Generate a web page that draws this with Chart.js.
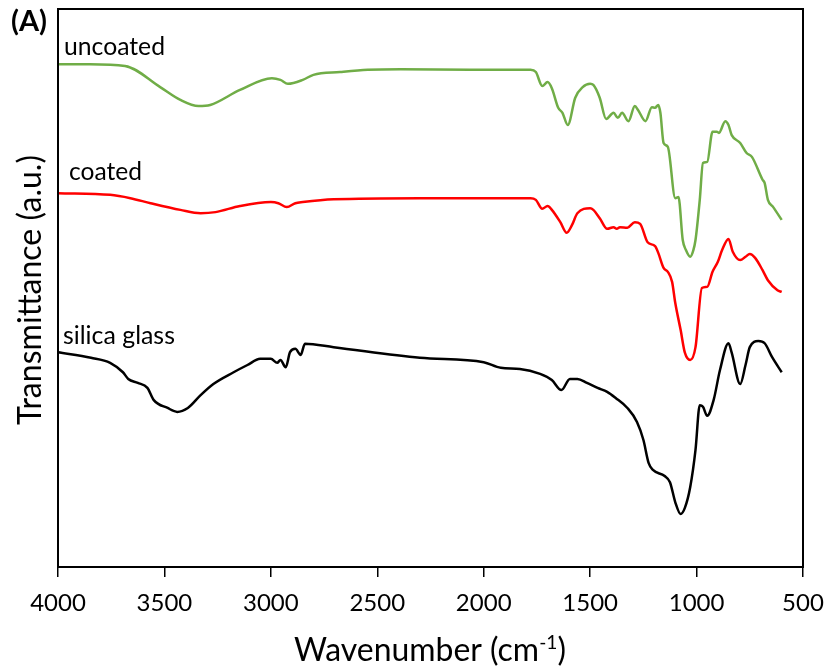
<!DOCTYPE html>
<html>
<head>
<meta charset="utf-8">
<script src="https://cdn.jsdelivr.net/npm/chart.js@4"></script>
<style>
  html, body { margin: 0; padding: 0; background: #fff; }
  #ftir { display: block; }
</style>
</head>
<body>
<canvas id="ftir" width="827" height="670"></canvas>
<script>
// Wavenumber (cm-1) and transmittance (a.u.)
const xTicks = [4000, 3500, 3000, 2500, 2000, 1500, 1000, 500];

const wnUncoated = [4000, 3850, 3685, 3520, 3425, 3340, 3285, 3145, 2995, 2955, 2920, 2850, 2800, 2675, 2545, 2390, 2065, 1780, 1755, 1725, 1700, 1680, 1650, 1630, 1605, 1570, 1535, 1500, 1485, 1455, 1425, 1390, 1370, 1350, 1320, 1290, 1275, 1240, 1210, 1195, 1180, 1170, 1155, 1135, 1100, 1085, 1065, 1050, 1030, 1015, 1005, 985, 970, 950, 925, 905, 895, 865, 850, 835, 795, 765, 740, 690, 680, 665, 640, 600];
const tUncoated = [90.1, 90.1, 89.8, 86.0, 83.7, 82.6, 82.8, 85.5, 87.6, 87.3, 86.6, 87.3, 88.2, 88.7, 89.1, 89.2, 89.1, 89.1, 88.7, 86.2, 86.9, 85.8, 82.3, 81.4, 79.2, 84.1, 86.0, 86.6, 86.4, 84.1, 80.3, 81.4, 80.5, 81.4, 79.9, 82.6, 81.9, 79.9, 82.4, 82.3, 82.8, 81.4, 76.0, 75.3, 66.1, 66.3, 58.6, 56.8, 55.6, 56.8, 58.6, 65.8, 72.4, 72.6, 78.0, 78.0, 77.8, 79.9, 79.2, 77.4, 76.0, 74.2, 73.5, 69.4, 68.8, 65.8, 64.5, 62.2];

const wnCoated = [4000, 3755, 3660, 3565, 3425, 3330, 3260, 3145, 3000, 2965, 2925, 2885, 2850, 2705, 2300, 1780, 1755, 1725, 1700, 1680, 1640, 1610, 1585, 1560, 1500, 1485, 1455, 1420, 1390, 1375, 1360, 1325, 1290, 1265, 1230, 1195, 1180, 1155, 1135, 1115, 1100, 1075, 1055, 1030, 1005, 975, 950, 925, 900, 880, 850, 830, 795, 770, 750, 725, 690, 665, 620, 600];
const tCoated = [67.0, 66.7, 66.1, 65.2, 64.0, 63.4, 63.6, 64.7, 65.4, 65.2, 64.5, 65.2, 65.4, 65.9, 66.1, 66.1, 65.8, 64.2, 64.7, 64.0, 61.8, 59.9, 61.3, 63.4, 64.3, 64.0, 62.5, 60.6, 60.9, 60.6, 60.9, 60.8, 61.8, 61.5, 58.2, 57.5, 56.3, 53.6, 52.9, 51.1, 47.3, 42.5, 38.4, 37.1, 39.4, 50.0, 50.2, 52.9, 54.7, 56.8, 58.8, 56.5, 55.0, 55.6, 56.1, 55.4, 53.2, 51.4, 49.6, 49.3];

const wnGlass = [4000, 3845, 3755, 3695, 3670, 3625, 3580, 3550, 3485, 3440, 3390, 3330, 3270, 3175, 3110, 3050, 3000, 2970, 2955, 2930, 2910, 2885, 2860, 2840, 2705, 2300, 2000, 1920, 1830, 1735, 1680, 1635, 1595, 1560, 1515, 1465, 1420, 1380, 1325, 1280, 1250, 1225, 1205, 1150, 1125, 1100, 1075, 1055, 1030, 1005, 985, 970, 950, 920, 890, 850, 835, 795, 770, 750, 710, 680, 645, 600];
const tGlass = [38.5, 37.5, 36.6, 34.9, 33.7, 33.0, 32.1, 29.9, 28.5, 27.8, 28.5, 30.8, 32.8, 34.9, 36.2, 37.3, 37.3, 36.6, 37.1, 35.8, 38.5, 39.1, 38.0, 40.0, 39.4, 37.5, 36.7, 35.7, 35.5, 34.6, 33.5, 31.7, 33.7, 33.7, 33.0, 32.1, 31.4, 30.3, 28.5, 26.0, 22.8, 18.6, 17.4, 16.3, 15.2, 11.6, 9.5, 10.6, 14.3, 21.0, 29.0, 28.7, 27.1, 29.9, 35.3, 40.1, 38.4, 32.8, 36.2, 39.4, 40.5, 40.1, 37.6, 34.9];

const FONT = 'Lato, "Open Sans", sans-serif';

const toPoints = (xs, ys) => xs.map((x, i) => ({ x: x, y: ys[i] }));

// set font size so the text spans the given width
function fitFont(ctx, text, weight, width) {
    ctx.font = `${weight} 20px ${FONT}`;
    const size = 20 * width / ctx.measureText(text).width;
    ctx.font = `${weight} ${size}px ${FONT}`;
    return size;
}

const frameAndText = {
    id: 'frameAndText',
    afterDraw(chart) {
        const { ctx, chartArea: a } = chart;
        ctx.save();
        ctx.strokeStyle = '#000';
        ctx.lineWidth = 2;
        ctx.strokeRect(a.left, a.top, a.right - a.left, a.bottom - a.top);

        ctx.fillStyle = '#000';
        ctx.textBaseline = 'alphabetic';
        ctx.textAlign = 'left';
        fitFont(ctx, '(A)', 'bold', 36);
        ctx.fillText('(A)', 11, 31);
        fitFont(ctx, 'uncoated', 'normal', 101);
        ctx.fillText('uncoated', 64, 55);
        fitFont(ctx, 'coated', 'normal', 73);
        ctx.fillText('coated', 69, 180);
        fitFont(ctx, 'silica glass', 'normal', 112);
        ctx.fillText('silica glass', 63, 344);

        // y title
        ctx.save();
        ctx.translate(31, 290);
        ctx.rotate(-Math.PI / 2);
        ctx.textAlign = 'center';
        ctx.textBaseline = 'middle';
        fitFont(ctx, 'Transmittance (a.u.)', 'normal', 270);
        ctx.fillText('Transmittance (a.u.)', 0, 0);
        ctx.restore();

        // x title with superscript
        const main = 'Wavenumber (cm', sup = '-1', tail = ')';
        ctx.font = `20px ${FONT}`;
        const w1 = ctx.measureText(main).width, w3 = ctx.measureText(tail).width;
        ctx.font = `12px ${FONT}`;
        const w2 = ctx.measureText(sup).width;
        const s = 20 * 272 / (w1 + w2 + w3);
        const k = s / 20;
        let x = 430 - 136;
        const y = 661;
        ctx.textAlign = 'left';
        ctx.textBaseline = 'alphabetic';
        ctx.font = `${s}px ${FONT}`;
        ctx.fillText(main, x, y);
        x += w1 * k;
        ctx.font = `${s * 0.6}px ${FONT}`;
        ctx.fillText(sup, x, y - s * 0.38);
        x += w2 * k;
        ctx.font = `${s}px ${FONT}`;
        ctx.fillText(tail, x, y);
        ctx.restore();
    }
};

const lineStyle = { pointRadius: 0, borderWidth: 2.5, fill: false, cubicInterpolationMode: 'monotone' };

new Chart(document.getElementById('ftir'), {
    type: 'line',
    data: {
        datasets: [
            { ...lineStyle, label: 'uncoated', data: toPoints(wnUncoated, tUncoated), borderColor: '#70ad47' },
            { ...lineStyle, label: 'coated', data: toPoints(wnCoated, tCoated), borderColor: '#ff0000' },
            { ...lineStyle, label: 'silica glass', data: toPoints(wnGlass, tGlass), borderColor: '#000000' }
        ]
    },
    options: {
        responsive: false,
        animation: false,
        devicePixelRatio: 1,
        layout: { padding: { left: 58, right: 24, top: 9, bottom: 0 } },
        plugins: { legend: { display: false }, tooltip: { enabled: false } },
        scales: {
            x: {
                type: 'linear',
                reverse: true,
                min: 500,
                max: 4000,
                afterFit: (s) => { s.height = 103; s.paddingLeft = 0; s.paddingRight = 0; },
                afterBuildTicks: (s) => { s.ticks = xTicks.map(v => ({ value: v })); },
                border: { display: false },
                grid: { drawOnChartArea: false, drawTicks: true, tickLength: 10, color: '#000', lineWidth: 1.5 },
                ticks: {
                    color: '#000', padding: 12, maxRotation: 0,
                    font: { family: FONT, size: 24 },
                    callback: (v) => String(v)
                }
            },
            y: { display: false, min: 0, max: 100 }
        }
    },
    plugins: [frameAndText]
});
</script>
</body>
</html>
